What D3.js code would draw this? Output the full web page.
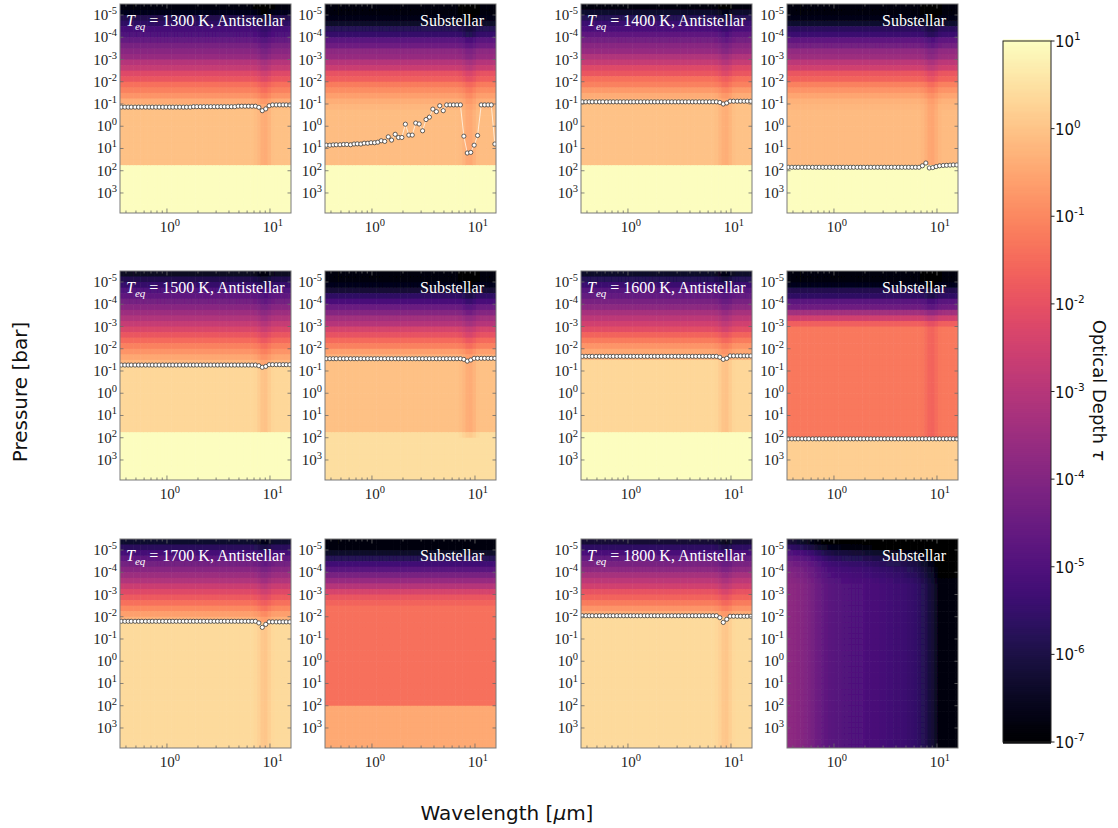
<!DOCTYPE html>
<html><head><meta charset="utf-8">
<script src="https://cdn.jsdelivr.net/npm/d3@7"></script>
<style>body{margin:0;background:#fff} svg{display:block}</style>
</head><body><svg id="c" width="1118" height="828"></svg>
<script>
// ---------------- DATA ----------------
const wavelengths = [0.36,0.39,0.42,0.45,0.49,0.53,0.57,0.62,0.67,0.72,0.78,0.84,0.91,0.98,1.06,1.14,1.23,1.33,1.44,1.55,
  1.68,1.81,1.95,2.11,2.28,2.46,2.66,2.87,3.1,3.35,3.61,3.9,4.22,4.55,4.92,5.31,5.73,6.19,6.69,7.22,
  7.8,8.42,9.1,9.82,10.6,11.5,12.4,13.4,14.4,15.6];
const pressureEdges = [3.16e-6,5.62e-6,1e-5,1.78e-5,3.16e-5,5.62e-5,1e-4,1.78e-4,3.16e-4,5.62e-4,1e-3,1.78e-3,3.16e-3,5.62e-3,
  0.01,0.0178,0.0316,0.0562,0.1,0.178,0.316,0.562,1,1.78,3.16,5.62,10,17.8,31.6,56.2,100,178,316,562,1000,1780,3160,5620,10000];
const temperatures = [1300,1400,1500,1600,1700,1800];
const xTicks = [1,10];
const yTicks = [1e-5,1e-4,1e-3,1e-2,1e-1,1,10,100,1000];
const cbarTicks = [1e-7,1e-6,1e-5,1e-4,1e-3,1e-2,1e-1,1,10];

// optical depth per pressure layer (reference column)
const tau1300A = [1.3e-7,2.5e-7,1.3e-6,2.5e-6,6.3e-6,1e-5,2.5e-5,6.3e-5,1.3e-4,2.5e-4,
  1e-3,2e-3,6.3e-3,1.3e-2,4e-2,8e-2,0.16,0.4,0.8,0.9,
  0.9,0.9,0.9,0.9,0.9,0.9,0.9,0.9,0.9,100,
  100,100,100,100,100,100,100,100];
const tau1300S = [1.3e-7,1.3e-7,2e-7,4e-7,1.6e-6,3.2e-6,1.6e-5,4e-5,1.6e-4,2.5e-4,
  1e-3,2.5e-3,1e-2,2e-2,6.3e-2,0.13,0.25,0.45,0.63,0.8,
  0.8,0.8,0.8,0.8,0.8,0.8,0.8,0.8,0.8,100,
  100,100,100,100,100,100,100,100];
const tau1400A = [1.6e-7,5e-7,1.6e-6,4e-6,7.9e-6,2e-5,5e-5,1.3e-4,2.5e-4,7.9e-4,
  2e-3,6.3e-3,1.3e-2,4e-2,7.9e-2,0.2,0.4,0.7,0.95,0.95,
  0.95,0.95,0.95,0.95,0.95,0.95,0.95,0.95,0.95,100,
  100,100,100,100,100,100,100,100];
const tau1400S = [1.3e-7,1.3e-7,2e-7,5e-7,2e-6,4e-6,2e-5,5e-5,2e-4,3.2e-4,
  1.3e-3,3.2e-3,1.3e-2,2.5e-2,7.9e-2,0.16,0.3,0.5,0.63,0.7,
  0.7,0.7,0.7,0.7,0.7,0.7,0.7,0.7,0.7,100,
  100,100,100,100,100,100,100,100];
const tau1500A = [3.2e-7,1.3e-6,3.2e-6,1e-5,2e-5,5e-5,1.3e-4,3.2e-4,7.9e-4,2e-3,
  5e-3,1.3e-2,3.2e-2,7.9e-2,0.16,0.32,0.63,2.2,2.2,2.2,
  2.2,2.2,2.2,2.2,2.2,2.2,2.2,2.2,2.2,100,
  100,100,100,100,100,100,100,100];
const tau1500S = [1.3e-7,1.3e-7,2.5e-7,6.3e-7,2.5e-6,7.9e-6,3.2e-5,1e-4,4e-4,1e-3,
  4e-3,1e-2,3.2e-2,7.9e-2,0.25,0.5,0.9,0.9,0.9,0.9,
  0.9,0.9,0.9,0.9,0.9,0.9,0.9,0.9,0.9,2.8,
  2.8,2.8,2.8,2.8,2.8,2.8,2.8,2.8];
const tau1600A = [4e-7,1.6e-6,4e-6,1.3e-5,2.5e-5,6.3e-5,1.6e-4,5e-4,1.3e-3,3.2e-3,
  7.9e-3,2.5e-2,6.3e-2,0.16,0.32,0.63,2.2,2.2,2.2,2.2,
  2.2,2.2,2.2,2.2,2.2,2.2,2.2,2.2,2.2,100,
  100,100,100,100,100,100,100,100];
const tau1600S = [1.3e-7,1.3e-7,2.5e-7,1.3e-6,2.5e-6,1.6e-5,4e-5,4e-4,3.2e-3,2e-2,
  5.6e-2,5.6e-2,5.6e-2,5.6e-2,5.6e-2,5.6e-2,5.6e-2,5.6e-2,5.6e-2,5.6e-2,
  5.6e-2,5.6e-2,5.6e-2,5.6e-2,5.6e-2,5.6e-2,5.6e-2,5.6e-2,5.6e-2,5.6e-2,
  1.6,1.6,1.6,1.6,1.6,1.6,1.6,1.6];
const tau1700A = [5e-7,2e-6,6.3e-6,2e-5,5e-5,1.3e-4,3.2e-4,7.9e-4,2.5e-3,6.3e-3,
  1.6e-2,4e-2,0.1,0.25,0.5,2.5,2.5,2.5,2.5,2.5,
  2.5,2.5,2.5,2.5,2.5,2.5,2.5,2.5,2.5,2.5,
  2.5,2.5,2.5,2.5,2.5,2.5,2.5,2.5];
const tau1700S = [1.3e-7,1.6e-7,4e-7,1.6e-6,5e-6,1.6e-5,6.3e-5,2.5e-4,1e-3,4e-3,
  1.3e-2,2.5e-2,4e-2,4e-2,4e-2,4e-2,4e-2,4e-2,4e-2,4e-2,
  4e-2,4e-2,4e-2,4e-2,4e-2,4e-2,4e-2,4e-2,4e-2,4e-2,
  0.35,0.35,0.35,0.35,0.35,0.35,0.35,0.35];
const tau1800A = [6.3e-7,2.5e-6,7.9e-6,2.5e-5,6.3e-5,1.6e-4,5e-4,1.3e-3,3.2e-3,1e-2,
  2.5e-2,6.3e-2,0.16,0.4,2.5,2.5,2.5,2.5,2.5,2.5,
  2.5,2.5,2.5,2.5,2.5,2.5,2.5,2.5,2.5,2.5,
  2.5,2.5,2.5,2.5,2.5,2.5,2.5,2.5];
const tau1800S = [6.3e-7,2.5e-6,1e-5,2.5e-5,5e-5,7.9e-5,1e-4,1.3e-4,1.6e-4,1.6e-4,
  1.6e-4,1.6e-4,1.6e-4,1.6e-4,1.6e-4,1.6e-4,1.6e-4,1.6e-4,1.6e-4,1.6e-4,
  1.6e-4,1.6e-4,1.6e-4,1.6e-4,1.6e-4,1.6e-4,1.6e-4,1.6e-4,1.6e-4,1.6e-4,
  1.6e-4,1.6e-4,1.6e-4,1.6e-4,1.6e-4,1.6e-4,1.6e-4,1.6e-4];

// relative opacity in the 8-10 micron band, and wavelength dependence of the 1800 K dayside
const bandFactor = [1,1,1,1,1,1,1,1,1,1, 1,1,1,1,1,1,1,1,1,1, 1,1,1,1,1,1,1,1,1,1,
  1,1,1,1,1,1,1,1,1,0.88, 0.68,0.48,0.45,0.62,0.9,1,1,1,1,1];
const factor1800S = [1,1,0.9,0.8,0.7,0.55,0.45,0.35,0.25,0.2,
  0.15,0.12,0.1,0.09,0.08,0.08,0.07,0.07,0.065,0.06,
  0.06,0.06,0.055,0.05,0.05,0.045,0.045,0.04,0.04,0.035,
  0.035,0.03,0.03,0.028,0.025,0.022,0.02,0.018,0.014,0.01,
  0.008,0.005,0.004,0.002,0.001,0.001,0.001,0.001,0.001,0.001];

// pressure [bar] of the photosphere markers at each wavelength
const dots1300A = [0.138,0.138,0.138,0.138,0.138,0.138,0.138,0.138,0.138,0.138,
  0.138,0.138,0.138,0.138,0.138,0.138,0.138,0.138,0.138,0.138,
  0.138,0.132,0.132,0.132,0.132,0.132,0.132,0.132,0.132,0.132,
  0.132,0.132,0.132,0.132,0.126,0.126,0.126,0.126,0.126,0.126,
  0.141,0.2,0.166,0.12,0.11,0.11,0.11,0.11,0.11,0.11];
const dots1300S = [7.1,7.1,6.9,6.8,6.8,6.6,6.6,6.8,6.3,6.2,
  6.3,5.8,5.8,5.5,5.5,5.2,4.5,4.8,3.0,4.2,
  2.3,3.2,3.2,0.81,2.5,2.5,0.72,0.79,1.6,0.5,
  0.39,0.17,0.22,0.12,0.2,0.11,0.11,0.11,0.11,0.11,
  2.8,16,15,7.1,2.6,0.11,0.11,0.11,0.11,6.3];
const dots1400A = [0.08,0.08,0.08,0.08,0.08,0.08,0.08,0.08,0.08,0.08,
  0.08,0.08,0.08,0.08,0.08,0.08,0.08,0.08,0.08,0.08,
  0.08,0.08,0.08,0.08,0.08,0.08,0.08,0.08,0.08,0.08,
  0.08,0.08,0.08,0.08,0.08,0.08,0.08,0.08,0.08,0.08,
  0.085,0.1,0.09,0.075,0.075,0.075,0.075,0.075,0.075,0.075];
const dots1400S = [70,70,70,70,70,70,70,70,70,70,
  70,70,70,70,70,70,70,70,70,70,
  70,70,70,70,70,70,70,70,70,70,
  70,70,70,70,70,70,70,70,70,60,
  45,75,72,65,60,58,57,56,55,55];
const dots1500A = [0.054,0.054,0.054,0.054,0.054,0.054,0.054,0.054,0.054,0.054,
  0.054,0.054,0.054,0.054,0.054,0.054,0.054,0.054,0.054,0.054,
  0.054,0.054,0.054,0.054,0.054,0.054,0.054,0.054,0.054,0.054,
  0.054,0.054,0.054,0.054,0.054,0.054,0.054,0.054,0.054,0.054,
  0.058,0.068,0.062,0.052,0.052,0.052,0.052,0.052,0.052,0.052];
const dots1500S = [0.028,0.028,0.028,0.028,0.028,0.028,0.028,0.028,0.028,0.028,
  0.028,0.028,0.028,0.028,0.028,0.028,0.028,0.028,0.028,0.028,
  0.028,0.028,0.028,0.028,0.028,0.028,0.028,0.028,0.028,0.028,
  0.028,0.028,0.028,0.028,0.028,0.028,0.028,0.028,0.028,0.028,
  0.03,0.036,0.032,0.027,0.027,0.027,0.027,0.027,0.027,0.027];
const dots1600A = [0.022,0.022,0.022,0.022,0.022,0.022,0.022,0.022,0.022,0.022,
  0.022,0.022,0.022,0.022,0.022,0.022,0.022,0.022,0.022,0.022,
  0.022,0.022,0.022,0.022,0.022,0.022,0.022,0.022,0.022,0.022,
  0.022,0.022,0.022,0.022,0.022,0.022,0.022,0.022,0.022,0.022,
  0.024,0.03,0.027,0.021,0.021,0.021,0.021,0.021,0.021,0.021];
const dots1600S = [112,112,112,112,112,112,112,112,112,112,
  112,112,112,112,112,112,112,112,112,112,
  112,112,112,112,112,112,112,112,112,112,
  112,112,112,112,112,112,112,112,112,112,
  112,112,112,112,112,112,112,112,112,112];
const dots1700A = [0.016,0.016,0.016,0.016,0.016,0.016,0.016,0.016,0.016,0.016,
  0.016,0.016,0.016,0.016,0.016,0.016,0.016,0.016,0.016,0.016,
  0.016,0.016,0.016,0.016,0.016,0.016,0.016,0.016,0.016,0.016,
  0.016,0.016,0.016,0.016,0.016,0.016,0.016,0.016,0.016,0.016,
  0.019,0.03,0.022,0.017,0.017,0.017,0.017,0.017,0.017,0.017];
const dots1800A = [0.009,0.009,0.009,0.009,0.009,0.009,0.009,0.009,0.009,0.009,
  0.009,0.009,0.009,0.009,0.009,0.009,0.009,0.009,0.009,0.009,
  0.009,0.009,0.009,0.009,0.009,0.009,0.009,0.009,0.009,0.009,
  0.009,0.009,0.009,0.009,0.009,0.009,0.009,0.009,0.009,0.009,
  0.011,0.018,0.013,0.0095,0.0095,0.0095,0.0095,0.0095,0.0095,0.0095];

// ---------------- LAYOUT ----------------
const colLeft = [120, 325, 581, 787], rowTop = [4, 271, 539];
const pw = 171, ph = 209;
const xLimits = [0.35, 16], yLimits = [3.2e-6, 7940];

const panelData = [
  {tau:tau1300A, dots:dots1300A, band:1e5}, {tau:tau1300S, dots:dots1300S, band:1e5},
  {tau:tau1400A, dots:dots1400A, band:1e5}, {tau:tau1400S, dots:dots1400S, band:1e5},
  {tau:tau1500A, dots:dots1500A, band:1e5}, {tau:tau1500S, dots:dots1500S, band:100},
  {tau:tau1600A, dots:dots1600A, band:1e5}, {tau:tau1600S, dots:dots1600S, band:100},
  {tau:tau1700A, dots:dots1700A, band:1e5}, {tau:tau1700S, dots:null, band:0},
  {tau:tau1800A, dots:dots1800A, band:1e5}, {tau:tau1800S, dots:null, band:0, factor:factor1800S}
];

const svg = d3.select('#c');
const defs = svg.append('defs');
defs.append('filter').attr('id','soft').attr('x','-3%').attr('y','-3%').attr('width','106%').attr('height','106%')
  .append('feGaussianBlur').attr('stdDeviation',0.7);

const color = d3.scaleSequentialLog(d3.interpolateMagma).domain([1e-7, 10]).clamp(true);
const x = d3.scaleLog().domain(xLimits).range([0, pw]);
const y = d3.scaleLog().domain(yLimits).range([0, ph]);

const wEdges = wavelengths.map((w,i)=> i===0 ? xLimits[0] : Math.sqrt(wavelengths[i-1]*w));
wEdges.push(xLimits[1]);

const serif = '"Liberation Serif","Times New Roman",serif';
const sans = '"DejaVu Sans",sans-serif';
const nW = wavelengths.length;

function supLabel(sel, exp, baseSize, expSize, rise){
  sel.append('tspan').text('10');
  sel.append('tspan').attr('dy', -rise).style('font-size', expSize+'px').text(exp);
}

panelData.forEach((p, pi) => {
  const ti = Math.floor(pi/2), sub = pi % 2;
  const row = Math.floor(ti/2), col = (ti % 2)*2 + sub;
  const g = svg.append('g').attr('transform', `translate(${colLeft[col]},${rowTop[row]})`);
  const cid = 'clip'+pi;
  defs.append('clipPath').attr('id', cid).append('rect').attr('width', pw).attr('height', ph);
  const cg = g.append('g').attr('clip-path', `url(#${cid})`);
  const heat = cg.append('g').attr('filter','url(#soft)');
  const cells = [];
  wavelengths.forEach((w, j) => {
    p.tau.forEach((t, k) => {
      let f = p.factor ? p.factor[j] : 1;
      if (pressureEdges[k] < p.band) f *= bandFactor[j];
      cells.push({j, k, v: t*f});
    });
  });
  heat.selectAll('rect').data(cells).join('rect')
    .attr('x', d => x(wEdges[d.j]) - (d.j===0 ? 5 : 0))
    .attr('width', d => x(wEdges[d.j+1]) - x(wEdges[d.j]) + (d.j===0 ? 5 : 0) + (d.j===nW-1 ? 5 : 0) + 0.6)
    .attr('y', d => y(pressureEdges[d.k]) - (d.k===0 ? 5 : 0))
    .attr('height', d => y(pressureEdges[d.k+1]) - y(pressureEdges[d.k]) + (d.k===0 ? 5 : 0) + 0.6)
    .attr('fill', d => color(d.v));

  if (p.dots) {
    const line = d3.line().x((d,i)=>x(wavelengths[i])).y(d=>y(d));
    cg.append('path').datum(p.dots).attr('d', line).attr('fill','none')
      .attr('stroke','rgba(255,250,240,0.75)').attr('stroke-width',1);
    cg.selectAll('circle').data(p.dots).join('circle')
      .attr('cx',(d,i)=>x(wavelengths[i])).attr('cy',d=>y(d)).attr('r',2.1)
      .attr('fill','#fff').attr('stroke','#3a3a3a').attr('stroke-width',0.8);
  }

  // frame
  g.append('rect').attr('width',pw).attr('height',ph).attr('fill','none').attr('stroke','#7a7a7a').attr('stroke-width',1);

  // ticks
  const minor = [0.4,0.5,0.6,0.7,0.8,0.9,2,3,4,5,6,7,8,9];
  const tk = g.append('g').attr('stroke','#6a6a6a').attr('stroke-width',0.8);
  minor.forEach(v => {
    tk.append('line').attr('x1',x(v)).attr('x2',x(v)).attr('y1',ph).attr('y2',ph-2.5);
    tk.append('line').attr('x1',x(v)).attr('x2',x(v)).attr('y1',0).attr('y2',2.5);
  });
  xTicks.forEach(v => {
    tk.append('line').attr('x1',x(v)).attr('x2',x(v)).attr('y1',ph).attr('y2',ph-4.5);
    tk.append('line').attr('x1',x(v)).attr('x2',x(v)).attr('y1',0).attr('y2',4.5);
  });
  yTicks.forEach(v => {
    tk.append('line').attr('x1',0).attr('x2',3.5).attr('y1',y(v)).attr('y2',y(v));
    tk.append('line').attr('x1',pw).attr('x2',pw-3.5).attr('y1',y(v)).attr('y2',y(v));
  });

  // tick labels
  yTicks.forEach(v => {
    const t = g.append('text').attr('x',-3).attr('y', y(v)+5).attr('text-anchor','end')
      .style('font-family',serif).style('font-size','15px').attr('fill','#222');
    supLabel(t, String(Math.round(Math.log10(v))), 15, 10.5, 6);
  });
  xTicks.forEach(v => {
    const t = g.append('text').attr('x', x(v)+3).attr('y', ph+19).attr('text-anchor','middle')
      .style('font-family',serif).style('font-size','15px').attr('fill','#222');
    supLabel(t, String(Math.round(Math.log10(v))), 15, 10.5, 6);
  });

  // titles
  if (sub === 0) {
    const t = g.append('text').attr('x',6).attr('y',22).attr('fill','#fff')
      .style('font-family',serif).style('font-size','16px');
    t.append('tspan').style('font-style','italic').text('T');
    t.append('tspan').style('font-style','italic').style('font-size','11px').attr('dy',4).text('eq');
    t.append('tspan').attr('dy',-4).text(' = ' + temperatures[ti] + ' K, Antistellar');
  } else {
    g.append('text').attr('x',pw-12).attr('y',22).attr('text-anchor','end').attr('fill','#fff')
      .style('font-family',serif).style('font-size','16px').text('Substellar');
  }
});

// ---------------- COLORBAR ----------------
const cbX = 1003, cbW = 48, cbTop = 41, cbBot = 742;
const cy = d3.scaleLog().domain([1e-7, 10]).range([cbBot, cbTop]);
const steps = d3.range(0, 351).map(i => Math.pow(10, -7 + 8*i/350));
svg.append('g').selectAll('rect').data(steps).join('rect')
  .attr('x', cbX).attr('width', cbW)
  .attr('y', d => cy(d) - 1.5).attr('height', 3.2)
  .attr('fill', d => color(d));
svg.append('rect').attr('x',cbX).attr('y',cbTop).attr('width',cbW).attr('height',cbBot-cbTop)
  .attr('fill','none').attr('stroke','#222').attr('stroke-width',1);
cbarTicks.forEach(v => {
  svg.append('line').attr('x1',cbX+cbW).attr('x2',cbX+cbW+3.5).attr('y1',cy(v)).attr('y2',cy(v))
    .attr('stroke','#222').attr('stroke-width',1);
  const t = svg.append('text').attr('x', cbX+cbW+4).attr('y', cy(v)+6)
    .style('font-family',sans).style('font-size','15px').attr('fill','#111');
  supLabel(t, String(Math.round(Math.log10(v))), 15, 10.5, 7);
});

// ---------------- AXIS TITLES ----------------
const yt = svg.append('text').attr('transform','translate(27,392) rotate(-90)').attr('text-anchor','middle')
  .style('font-family',sans).style('font-size','20px').attr('fill','#111').text('Pressure [bar]');
const xt = svg.append('text').attr('x',507).attr('y',820).attr('text-anchor','middle')
  .style('font-family',sans).style('font-size','20px').attr('fill','#111');
xt.append('tspan').text('Wavelength [');
xt.append('tspan').style('font-style','italic').text('μ');
xt.append('tspan').text('m]');
const ct = svg.append('text').attr('transform','translate(1093,390) rotate(90)').attr('text-anchor','middle')
  .style('font-family',sans).style('font-size','18px').attr('fill','#111');
ct.append('tspan').text('Optical Depth ');
ct.append('tspan').style('font-style','italic').text('τ');
</script>
</body></html>
